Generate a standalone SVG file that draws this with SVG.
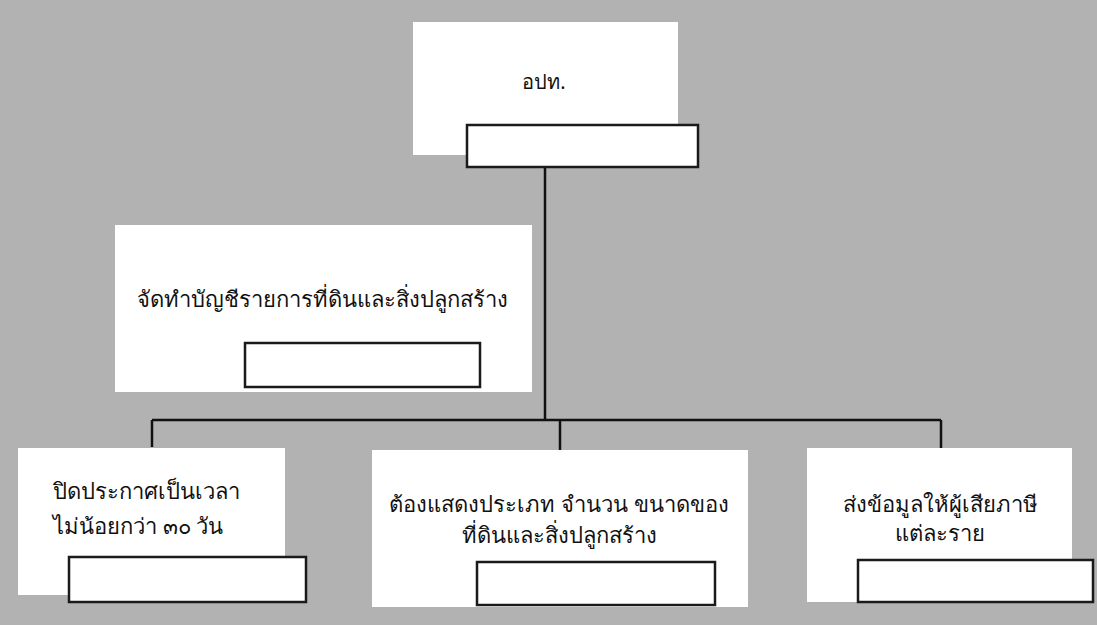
<svg xmlns="http://www.w3.org/2000/svg" width="1097" height="625" viewBox="0 0 1097 625">
<defs>
<style>
.node{fill:#ffffff;stroke:none}
.lbl{fill:#ffffff;stroke:#1a1a1a;stroke-width:2.5}
.t{font-family:"Noto Sans","DejaVu Sans",sans-serif;font-size:22px;fill:#111111}
.c{text-anchor:middle}
.conn{stroke:#111111;stroke-width:2.5;fill:none}
</style>
</defs>
<rect x="0" y="0" width="1097" height="625" fill="#b2b2b2"/>
<g id="connectors">
<path class="conn" d="M545 167 V420"/>
<path class="conn" d="M152 420 H941"/>
<path class="conn" d="M152 420 V447"/>
<path class="conn" d="M560 420 V450"/>
<path class="conn" d="M941 420 V448"/>
</g>
<g id="node-opt">
<rect class="node" x="413" y="22" width="265" height="133"/>
<text class="t c" x="544" y="89" style="font-size:20px">อปท.</text>
<rect class="lbl" x="467" y="125" width="231" height="42"/>
</g>
<g id="node-list">
<rect class="node" x="115" y="225" width="417" height="167"/>
<text class="t c" x="322" y="307">จัดทำบัญชีรายการที่ดินและสิ่งปลูกสร้าง</text>
<rect class="lbl" x="245" y="343" width="235" height="44"/>
</g>
<g id="node-announce">
<rect class="node" x="18" y="448" width="267" height="147"/>
<text class="t" x="53" y="499">ปิดประกาศเป็นเวลา</text>
<text class="t" x="53" y="534">ไม่น้อยกว่า ๓๐ วัน</text>
<rect class="lbl" x="69" y="557" width="237" height="45"/>
</g>
<g id="node-detail">
<rect class="node" x="372" y="450" width="376" height="157"/>
<text class="t c" x="559" y="512">ต้องแสดงประเภท จำนวน ขนาดของ</text>
<text class="t c" x="559" y="543">ที่ดินและสิ่งปลูกสร้าง</text>
<rect class="lbl" x="477" y="562" width="238" height="43"/>
</g>
<g id="node-send">
<rect class="node" x="807" y="448" width="265" height="154"/>
<text class="t c" x="940" y="512">ส่งข้อมูลให้ผู้เสียภาษี</text>
<text class="t c" x="940" y="541">แต่ละราย</text>
<rect class="lbl" x="858" y="560" width="235" height="42"/>
</g>
</svg>
